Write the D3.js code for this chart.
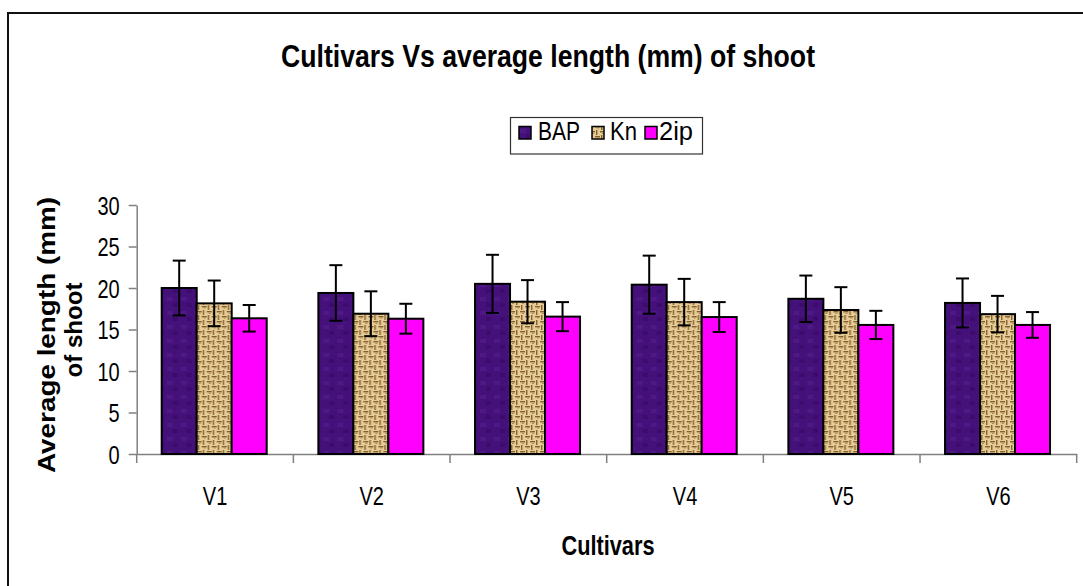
<!DOCTYPE html>
<html><head><meta charset="utf-8">
<script src="https://cdn.jsdelivr.net/npm/d3@7"></script>
<style>body{margin:0;background:#fff}svg{display:block}text{font-family:"Liberation Sans",Arial,sans-serif}</style>
</head><body>
<svg id="c" width="1083" height="586"></svg>
<script>
const categories = ["V1","V2","V3","V4","V5","V6"];
const series = ["BAP","Kn","2ip"];
const bapValues = [20.0, 19.4, 20.5, 20.4, 18.7, 18.2];
const bapErrors = [3.3, 3.35, 3.5, 3.5, 2.8, 2.95];
const knValues  = [18.15, 16.9, 18.35, 18.3, 17.35, 16.85];
const knErrors  = [2.75, 2.7, 2.6, 2.8, 2.75, 2.2];
const ipValues  = [16.35, 16.3, 16.55, 16.5, 15.55, 15.55];
const ipErrors  = [1.6, 1.8, 1.75, 1.8, 1.7, 1.55];
const yTicks = [0,5,10,15,20,25,30];
const title = "Cultivars Vs average length (mm) of shoot";
const xTitle = "Cultivars";
const yTitle1 = "Average length (mm)";
const yTitle2 = "of shoot";

const svg = d3.select("#c");
const defs = svg.append("defs");

// BAP texture
const pb = defs.append("pattern").attr("id","pBAP").attr("patternUnits","userSpaceOnUse").attr("width",14).attr("height",14);
pb.append("rect").attr("width",14).attr("height",14).attr("fill","#44107a");
pb.append("rect").attr("x",2).attr("y",3).attr("width",6).attr("height",4).attr("fill","#521a88").attr("opacity",0.8);
pb.append("rect").attr("x",8).attr("y",9).attr("width",5).attr("height",4).attr("fill","#3a0a68").attr("opacity",0.8);
// Kn weave texture
const pk = defs.append("pattern").attr("id","pKn").attr("patternUnits","userSpaceOnUse").attr("width",10).attr("height",10);
pk.append("rect").attr("width",10).attr("height",10).attr("fill","#e6cd98");
[[0,1,5,1.4],[5,6,5,1.4]].forEach(d=>pk.append("rect").attr("x",d[0]).attr("y",d[1]).attr("width",d[2]).attr("height",d[3]).attr("fill","#85602c"));
[[6,0,1.4,5],[1,5,1.4,5]].forEach(d=>pk.append("rect").attr("x",d[0]).attr("y",d[1]).attr("width",d[2]).attr("height",d[3]).attr("fill","#85602c"));
pk.append("rect").attr("x",2).attr("y",3).attr("width",2).attr("height",1).attr("fill","#b08a50");
pk.append("rect").attr("x",7).attr("y",7.5).attr("width",2).attr("height",1).attr("fill","#b08a50");

const fills = {"BAP":"url(#pBAP)","Kn":"url(#pKn)","2ip":"#ff00ff"};

// border
svg.append("rect").attr("x",8).attr("y",13).attr("width",2000).attr("height",2000)
  .attr("fill","none").attr("stroke","#111").attr("stroke-width",2);

const x0 = d3.scaleBand().domain(categories).range([136.7, 1076.7]);
const x1 = d3.scaleBand().domain(series).range([25, 130]);
const y = d3.scaleLinear().domain([0,30]).range([454, 205]);

function ctext(g, xx, yy, str, size, anchor, weight, len){
  const t = g.append("text").attr("x",xx).attr("y",yy).attr("font-size",size)
    .attr("text-anchor",anchor).attr("font-weight",weight).text(str);
  if(len){ t.attr("textLength",len).attr("lengthAdjust","spacingAndGlyphs"); }
  return t;
}

// title
ctext(svg, 548, 67, title, 32, "middle", "bold", 534);

// legend
const lg = svg.append("g");
lg.append("rect").attr("x",510.5).attr("y",117.5).attr("width",192).attr("height",36.5)
  .attr("fill","#fff").attr("stroke","#333").attr("stroke-width",1.2);
const legItems = [{s:"BAP",mx:519,tx:538,tl:42},{s:"Kn",mx:592,tx:610,tl:27},{s:"2ip",mx:645,tx:659,tl:34}];
legItems.forEach(d=>{
  lg.append("rect").attr("x",d.mx).attr("y",126.5).attr("width",12).attr("height",12.5)
    .attr("fill",fills[d.s]).attr("stroke","#000").attr("stroke-width",1.5);
  ctext(lg, d.tx, 140, d.s, 25, "start", "normal", d.tl);
});

// axes
const yAxis = svg.append("g").attr("transform","translate(136.7,0)")
  .call(d3.axisLeft(y).tickValues(yTicks).tickSize(8).tickSizeOuter(0));
yAxis.selectAll("path,line").attr("stroke","#808080").attr("stroke-width",1.5);
yAxis.selectAll("text").attr("font-size",25).attr("fill","#000")
  .attr("font-family","Liberation Sans, Arial, sans-serif")
  .attr("x",-17/0.8).attr("transform","scale(0.8,1)").attr("dy","0.36em");

const xAxis = svg.append("g").attr("transform","translate(0,454)")
  .call(d3.axisBottom(x0).tickSize(0).tickSizeOuter(0).tickPadding(0).tickFormat(""));
xAxis.select("path").attr("stroke","#808080").attr("stroke-width",1.5);
const bounds = categories.map(c=>x0(c)).concat([x0.range()[1]]);
xAxis.selectAll("line.bt").data(bounds).enter().append("line").attr("class","bt")
  .attr("x1",d=>d).attr("x2",d=>d).attr("y1",0).attr("y2",9)
  .attr("stroke","#808080").attr("stroke-width",1.5);
categories.forEach(c=>{
  const cx = x0(c) + x0.bandwidth()/2;
  svg.append("text").attr("transform",`translate(${cx},505) scale(0.8,1)`)
    .attr("font-size",25).attr("text-anchor","middle").text(c);
});

// bars
const rows = categories.map((c,i)=>({c, vals:[
  {s:"BAP",v:bapValues[i],e:bapErrors[i]},
  {s:"Kn",v:knValues[i],e:knErrors[i]},
  {s:"2ip",v:ipValues[i],e:ipErrors[i]}]}));
const gg = svg.append("g").selectAll("g").data(rows).enter().append("g")
  .attr("transform",d=>`translate(${x0(d.c)},0)`);
gg.selectAll("rect").data(d=>d.vals).enter().append("rect")
  .attr("x",d=>x1(d.s)).attr("width",x1.bandwidth())
  .attr("y",d=>y(d.v)).attr("height",d=>y(0)-y(d.v))
  .attr("fill",d=>fills[d.s]).attr("stroke","#000").attr("stroke-width",2);
const eb = gg.selectAll("g.eb").data(d=>d.vals).enter().append("g").attr("class","eb")
  .attr("stroke","#000").attr("stroke-width",2);
eb.append("line").attr("x1",d=>x1(d.s)+x1.bandwidth()/2).attr("x2",d=>x1(d.s)+x1.bandwidth()/2)
  .attr("y1",d=>y(d.v+d.e)).attr("y2",d=>y(d.v-d.e));
eb.append("line").attr("x1",d=>x1(d.s)+x1.bandwidth()/2-6.5).attr("x2",d=>x1(d.s)+x1.bandwidth()/2+6.5)
  .attr("y1",d=>y(d.v+d.e)).attr("y2",d=>y(d.v+d.e));
eb.append("line").attr("x1",d=>x1(d.s)+x1.bandwidth()/2-6.5).attr("x2",d=>x1(d.s)+x1.bandwidth()/2+6.5)
  .attr("y1",d=>y(d.v-d.e)).attr("y2",d=>y(d.v-d.e));

// axis titles
ctext(svg, 608, 555, xTitle, 27, "middle", "bold", 93);
svg.append("text").attr("transform","translate(55,335) rotate(-90)")
  .attr("font-size",24).attr("font-weight","bold").attr("text-anchor","middle")
  .attr("textLength",276).attr("lengthAdjust","spacingAndGlyphs").text(yTitle1);
svg.append("text").attr("transform","translate(82,330) rotate(-90)")
  .attr("font-size",24).attr("font-weight","bold").attr("text-anchor","middle")
  .attr("textLength",95).attr("lengthAdjust","spacingAndGlyphs").text(yTitle2);
</script>
</body></html>
